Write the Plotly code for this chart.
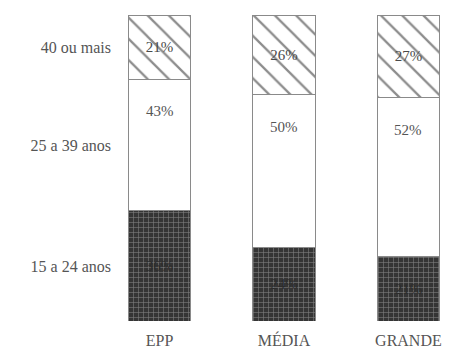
import plotly.graph_objects as go

# Company size categories (x axis)
portes = ["EPP", "MÉDIA", "GRANDE"]

# Share of employees by age band, in percent
jovens = [36, 24, 21]        # 15 a 24 anos
adultos = [43, 50, 52]       # 25 a 39 anos
maduros = [21, 26, 27]       # 40 ou mais

faixas = ["15 a 24 anos", "25 a 39 anos", "40 ou mais"]

FONT = "Liberation Serif"
TXT = "#555555"
EDGE = "#8a8a8a"

fig = go.Figure()

# Bottom segment: dark dotted texture
fig.add_trace(go.Bar(
    x=portes, y=jovens, name=faixas[0], width=0.5,
    marker=dict(
        color="#3c3c3c",
        line=dict(color=EDGE, width=1),
        pattern=dict(shape="+", fgcolor="#808080", bgcolor="#353535",
                     size=5, solidity=0.22, fillmode="replace"),
    ),
    text=[f"{v}%" for v in jovens], textposition="inside",
    insidetextanchor="middle",
    textfont=dict(family=FONT, size=15, color="#2c2c2c"),
))

# Middle segment: plain white, label placed near the top
fig.add_trace(go.Bar(
    x=portes, y=adultos, name=faixas[1], width=0.5,
    marker=dict(color="white", line=dict(color=EDGE, width=1)),
    hoverinfo="skip",
))

# Top segment: diagonal hatching
fig.add_trace(go.Bar(
    x=portes, y=maduros, name=faixas[2], width=0.5,
    marker=dict(
        color="white",
        line=dict(color=EDGE, width=1),
        pattern=dict(shape="\\", fgcolor="#1a1a1a", bgcolor="white",
                     size=15, solidity=0.15),
    ),
    text=[f"{v}%" for v in maduros], textposition="inside",
    insidetextanchor="middle",
    textfont=dict(family=FONT, size=15, color="#4a4a4a"),
))

# Labels for the white middle segment, just below its upper edge
for p, b, v in zip(portes, jovens, adultos):
    fig.add_annotation(
        x=p, y=b + v, text=f"{v}%", showarrow=False,
        yanchor="top", yshift=-22,
        font=dict(family=FONT, size=15, color=TXT),
    )

# Age-band labels aligned with the segments of the first bar
meio = [jovens[0] / 2,
        jovens[0] + adultos[0] / 2,
        jovens[0] + adultos[0] + maduros[0] / 2]

fig.update_layout(
    barmode="stack",
    width=458, height=354,
    margin=dict(l=126, r=16, t=15, b=33, autoexpand=False),
    paper_bgcolor="white", plot_bgcolor="white",
    showlegend=False,
    font=dict(family=FONT, size=16, color=TXT),
    xaxis=dict(range=[-0.27, 2.27], showline=False, showgrid=False,
               zeroline=False, ticks="", ticklabelstandoff=8,
               automargin=False,
               tickfont=dict(family=FONT, size=16, color=TXT)),
    yaxis=dict(range=[0, 100], showline=False, showgrid=False,
               zeroline=False, ticks="", automargin=False,
               tickvals=meio, ticktext=faixas, ticklabelstandoff=14,
               tickfont=dict(family=FONT, size=16, color=TXT)),
)

fig.write_html("out.html")
